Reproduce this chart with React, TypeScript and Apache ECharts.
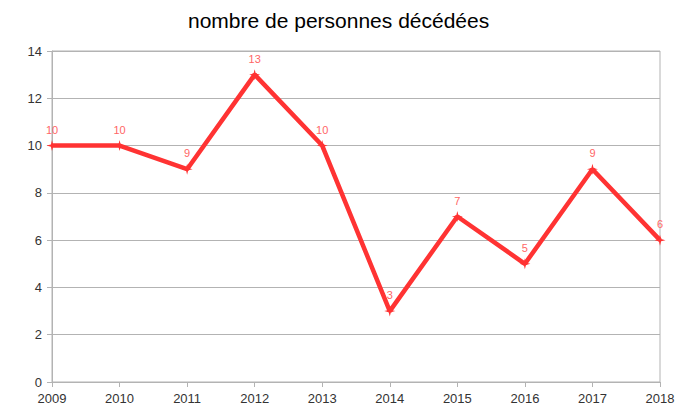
import React, { useEffect, useRef } from "react";
import * as echarts from "echarts";

const titleText = "nombre de personnes décédées";
const years = ["2009", "2010", "2011", "2012", "2013", "2014", "2015", "2016", "2017", "2018"];
const deaths = [10, 10, 9, 13, 10, 3, 7, 5, 9, 6];

export default function App() {
  const ref = useRef<HTMLDivElement>(null);
  useEffect(() => {
    if (!ref.current) return;
    const chart = echarts.init(ref.current, null, { renderer: "svg" });
    const gray = "#b3b3b3";
    chart.setOption({
      animation: false,
      backgroundColor: "#ffffff",
      title: {
        text: titleText,
        left: 183,
        top: 5,
        textStyle: { fontFamily: "Liberation Sans", fontSize: 21, fontWeight: "normal", color: "#000000" },
      },
      grid: { left: 52, right: 31, top: 51, bottom: 29, show: true, borderColor: gray, borderWidth: 1 },
      xAxis: {
        type: "category",
        data: years,
        boundaryGap: false,
        axisLine: { lineStyle: { color: gray } },
        axisTick: { show: true, length: 5, alignWithLabel: true, lineStyle: { color: gray } },
        axisLabel: { color: "#333333", fontFamily: "Liberation Sans", fontSize: 13, margin: 10 },
        splitLine: { show: false },
      },
      yAxis: {
        type: "value",
        min: 0,
        max: 14,
        interval: 2,
        axisLine: { show: true, lineStyle: { color: gray } },
        axisTick: { show: true, length: 5, lineStyle: { color: gray } },
        axisLabel: { color: "#333333", fontFamily: "Liberation Sans", fontSize: 13, margin: 10 },
        splitLine: { show: true, lineStyle: { color: gray } },
      },
      series: [
        {
          type: "line",
          data: deaths,
          lineStyle: { color: "#ff3333", width: 4.5 },
          itemStyle: { color: "#ff3333" },
          symbol: "path://M5,0 L6,4 L10,5 L6,6 L5,10 L4,6 L0,5 L4,4 Z",
          symbolSize: 11,
          label: {
            show: true,
            position: "top",
            distance: 5,
            color: "#ff6666",
            fontFamily: "Liberation Sans",
            fontSize: 11,
          },
        },
      ],
    });
    return () => chart.dispose();
  }, []);
  return <div ref={ref} style={{ width: 691, height: 411, position: "absolute", left: 0, top: 0 }} />;
}
